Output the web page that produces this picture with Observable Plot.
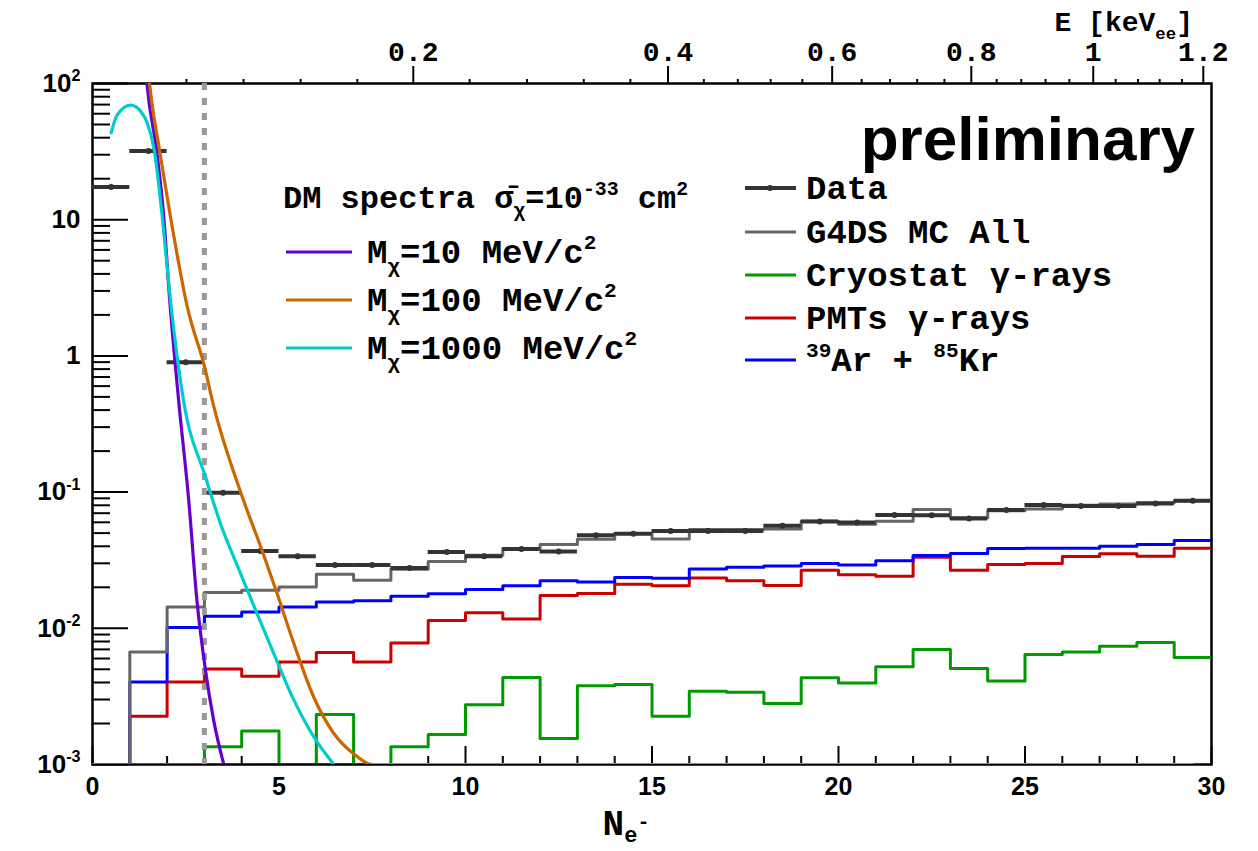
<!DOCTYPE html>
<html><head><meta charset="utf-8">
<script src="https://cdn.jsdelivr.net/npm/d3@7"></script>
<script src="https://cdn.jsdelivr.net/npm/@observablehq/plot@0.6"></script>
<style>
html,body{margin:0;padding:0;background:#fff;}
#chart{position:relative;width:1258px;height:851px;}
</style></head><body><div id="chart"></div>
<script>
// ---------------- data ----------------
const binEdges = [0,1,2,3,4,5,6,7,8,9,10,11,12,13,14,15,16,17,18,19,20,21,22,23,24,25,26,27,28,29,30];
const dataCounts = [17.4,32,0.90,0.099,0.037,0.0338,0.0292,0.0292,0.0277,0.0364,0.0338,0.0382,0.0367,0.0483,0.0494,0.0517,0.0519,0.0519,0.0565,0.0608,0.0598,0.0680,0.0676,0.0639,0.0740,0.0805,0.0792,0.0792,0.0825,0.0863];
const mcAll = [0,0.00671,0.01436,0.0183,0.0190,0.0201,0.0249,0.0225,0.0271,0.0310,0.0344,0.0385,0.0412,0.0451,0.0497,0.0453,0.0531,0.0531,0.0535,0.0611,0.0581,0.0611,0.0745,0.0647,0.0731,0.0753,0.0801,0.0819,0.0834,0.0863];
const cryostat = [0,0,0,0.00135,0.00176,0,0.00233,0,0.00135,0.00166,0.00275,0.00436,0.00155,0.00378,0.00387,0.00226,0.00345,0.00339,0.00281,0.00433,0.00397,0.00521,0.00698,0.00507,0.00411,0.00643,0.00671,0.00739,0.00787,0.00611];
const pmts = [0,0.00226,0.00404,0.00503,0.00445,0.00566,0.00664,0.00566,0.0078,0.0114,0.0130,0.0117,0.0174,0.0180,0.0211,0.0205,0.0234,0.0223,0.0206,0.0267,0.0247,0.0241,0.0333,0.0267,0.0294,0.0299,0.0337,0.0352,0.0338,0.0387];
const arKr = [0,0.00404,0.01014,0.01227,0.0132,0.01436,0.0156,0.0159,0.0172,0.0179,0.0193,0.0205,0.0223,0.0219,0.0236,0.0233,0.0272,0.0281,0.0287,0.0299,0.0292,0.0313,0.0342,0.0354,0.0385,0.0387,0.0387,0.0401,0.0412,0.0441];

// DM spectra (Ne, value); 0 = empty (drawn at axis floor), NaN = gap
const dm10Ne  = [1.35,1.46,1.72,1.91,2.07,2.31,2.58,2.80,3.03,3.25,3.52,4.0,4.5,29.5];
const dm10Val = [250,100,32,10.5,2.57,0.47,0.087,0.016,0.0049,0.0021,0.001,NaN,0,0];
const dm100Ne  = [1.40,1.53,1.80,2.09,2.54,3.03,3.21,3.97,4.55,4.95,5.40,5.93,6.47,7.0,7.5,29.5];
const dm100Val = [250,100,32,10.5,2.3,0.78,0.473,0.1,0.037,0.018,0.0077,0.00313,0.00169,0.0012,0.001,0];
const dm1000Ne  = [0.5,0.66,1.02,1.30,1.46,1.66,1.87,2.09,2.44,3.03,3.43,3.97,4.41,4.86,5.40,5.93,6.47,7.0,7.5,29.5];
const dm1000Val = [43.4,58.5,69.3,62,52,32,10.5,2.57,0.473,0.129,0.0588,0.0252,0.01285,0.00653,0.00297,0.0016,0.001,NaN,0,0];
const threshold = [3];

// axis tick values / labels
const yMin = 1e-3, yMax = 100;
const yMajor = [1e-3,1e-2,1e-1,1,10,100];
const yMajorLabels = ["10^{-3}","10^{-2}","10^{-1}","1","10","10^{2}"];
const xMajor = [0,5,10,15,20,25,30];
const xMinor = [1,2,3,4,6,7,8,9,11,12,13,14,16,17,18,19,21,22,23,24,26,27,28,29];
const energyMajor = ["0.2","0.4","0.6","0.8","1","1.2"];
const energyMajorNe = [8.60,15.43,19.83,23.56,26.83,29.78];
const energyMinorNe = [2.52,4.05,5.58,7.10,10.11,11.65,13.17,14.42,16.39,17.30,18.18,19.03,20.62,21.38,22.11,22.84,24.24,24.90,25.55,26.19,27.43,28.03,28.61,29.21];

const colors = {data:"#333333", mc:"#666666", cryo:"#009900", pmt:"#cc0000", ar:"#0000ff", m10:"#6600cc", m100:"#cc6600", m1000:"#00cccc", thr:"#999999"};

// ---------------- build rows ----------------
const histRows = vals => binEdges.map((e,i) => ({x: e, v: vals[Math.min(i, vals.length-1)]}));
const dataRows = dataCounts.map((v,i) => ({lo: binEdges[i], hi: binEdges[i+1], mid: (binEdges[i]+binEdges[i+1])/2, v}));
const curveRows = (ns, vs) => ns.map((n,i) => ({n, v: vs[i]}));
const floorY = d => Math.max(d.v, yMin);

const yMinor = [1e-3,1e-2,1e-1,1,10].flatMap(d => [2,3,4,5,6,7,8,9].map(m => m*d));
const yLab = new Map(yMajor.map((v,i) => [v, yMajorLabels[i]]));
const eLab = new Map(energyMajorNe.map((v,i) => [v, energyMajor[i]]));

const sans = "'Liberation Sans', Arial, Helvetica, sans-serif";
const mono = "'Liberation Mono', 'Courier New', Courier, monospace";

const histLine = (vals, color) => Plot.line(histRows(vals), {x: "x", y: floorY, curve: "step-after", stroke: color, strokeWidth: 3, clip: true});
const dmLine = (ns, vs, color) => Plot.line(curveRows(ns, vs), {x: "n", y: floorY, curve: "monotone-x", stroke: color, strokeWidth: 3.2, clip: true});
const tickOnly = {fill: "none", strokeWidth: 2, label: null};

const plot = Plot.plot({
  width: 1258, height: 851,
  marginLeft: 92, marginRight: 47, marginTop: 83, marginBottom: 87,
  x: {domain: [0, 30]},
  y: {type: "log", domain: [yMin, yMax]},
  style: {background: "white"},
  marks: [
    Plot.frame({stroke: "black", strokeWidth: 2.5}),
    // left axis
    Plot.axisY(yMajor, {anchor: "left", tickSize: -36, ...tickOnly}),
    Plot.axisY(yMinor, {anchor: "left", tickSize: -18, ...tickOnly}),
    Plot.axisY(yMajor, {anchor: "left", tickSize: 0, tickPadding: 12, tickFormat: d => yLab.get(d), fontSize: 26, fontWeight: "bold", fontFamily: sans, fill: "black", label: null}),
    // bottom axis
    Plot.axisX(xMajor, {anchor: "bottom", tickSize: -18, ...tickOnly}),
    Plot.axisX(xMinor, {anchor: "bottom", tickSize: -8, ...tickOnly}),
    Plot.axisX(xMajor, {anchor: "bottom", tickSize: 0, tickPadding: 13, tickFormat: d => String(d), fontSize: 25, fontWeight: "bold", fontFamily: sans, fill: "black", label: null}),
    // top energy axis
    Plot.axisX(energyMajorNe, {anchor: "top", tickSize: 18, tickPadding: 5, tickFormat: d => eLab.get(d), strokeWidth: 2, fontSize: 28, fontWeight: "bold", fontFamily: mono, fill: "black", label: null}),
    Plot.axisX(energyMinorNe, {anchor: "top", tickSize: 5, ...tickOnly}),
    // histograms
    histLine(cryostat, colors.cryo),
    histLine(pmts, colors.pmt),
    histLine(arKr, colors.ar),
    histLine(mcAll, colors.mc),
    // data
    Plot.ruleY(dataRows, {x1: "lo", x2: "hi", y: "v", stroke: colors.data, strokeWidth: 4}),
    Plot.dot(dataRows, {x: "mid", y: "v", r: 3, fill: colors.data, stroke: "none"}),
    // threshold
    Plot.ruleX(threshold, {stroke: colors.thr, strokeWidth: 5, strokeDasharray: "7,8"}),
    // DM spectra
    dmLine(dm10Ne, dm10Val, colors.m10),
    dmLine(dm100Ne, dm100Val, colors.m100),
    dmLine(dm1000Ne, dm1000Val, colors.m1000)
  ]
});

document.getElementById("chart").appendChild(plot);
const svg = d3.select(plot);

// rich text helper: supports ^{..} and _{..}
function rich(sel, str, size) {
  sel.text(null);
  const parts = str.split(/(\^\{[^}]*\}|_\{[^}]*\})/).filter(p => p.length);
  let cur = 0;
  for (const p of parts) {
    let target = 0, fs = size, txt = p;
    if (p[0] === "^" && p[1] === "{") { target = -0.42*size; fs = 0.62*size; txt = p.slice(2,-1); }
    else if (p[0] === "_" && p[1] === "{") { target = 0.28*size; fs = 0.62*size; txt = p.slice(2,-1); }
    sel.append("tspan").attr("dy", target - cur).attr("font-size", fs).text(txt);
    cur = target;
  }
}

svg.selectAll('g[aria-label="y-axis tick label"] text').each(function() {
  rich(d3.select(this), this.textContent, 26);
});

function addText(x, y, str, {size = 33, family = mono, anchor = "start", weight = "bold", fill = "black"} = {}) {
  const t = svg.append("text").attr("x", x).attr("y", y)
    .attr("font-family", family).attr("font-size", size).attr("font-weight", weight)
    .attr("text-anchor", anchor).attr("fill", fill);
  rich(t, str, size);
  return t;
}

// axis titles
addText(1193, 31, "E [keV_{ee}]", {size: 28, anchor: "end"});
{
  const t = svg.append("text").attr("x", 626).attr("y", 835)
    .attr("font-family", mono).attr("font-size", 36).attr("font-weight", "bold").attr("fill", "black");
  t.append("tspan").text("N");
  t.append("tspan").attr("dy", 7).attr("font-size", 22).text("e");
  t.append("tspan").attr("dy", -14).attr("font-size", 20).text("-");
}

// preliminary
addText(1195, 160, "preliminary", {size: 62, family: sans, anchor: "end"});

// legend 1 (DM spectra)
addText(283, 208, "DM spectra σ̄_{χ}=10^{-33} cm^{2}", {size: 32});
const leg1 = [["M_{χ}=10 MeV/c^{2}", colors.m10, 252], ["M_{χ}=100 MeV/c^{2}", colors.m100, 300], ["M_{χ}=1000 MeV/c^{2}", colors.m1000, 348]];
for (const [lab, col, y] of leg1) {
  svg.append("line").attr("x1", 286).attr("x2", 352).attr("y1", y).attr("y2", y).attr("stroke", col).attr("stroke-width", 3.2);
  addText(367, y + 11, lab, {size: 34});
}

// legend 2 (data / backgrounds)
const leg2 = [["Data", colors.data, 188], ["G4DS MC All", colors.mc, 232], ["Cryostat γ-rays", colors.cryo, 275], ["PMTs γ-rays", colors.pmt, 318], ["^{39}Ar + ^{85}Kr", colors.ar, 360]];
for (const [lab, col, y] of leg2) {
  svg.append("line").attr("x1", 745).attr("x2", 796).attr("y1", y).attr("y2", y).attr("stroke", col).attr("stroke-width", lab === "Data" ? 4 : 3.2);
  if (lab === "Data") svg.append("circle").attr("cx", 770).attr("cy", y).attr("r", 3).attr("fill", col);
  addText(806, y + 11, lab, {size: 34});
}
</script>
</body></html>
